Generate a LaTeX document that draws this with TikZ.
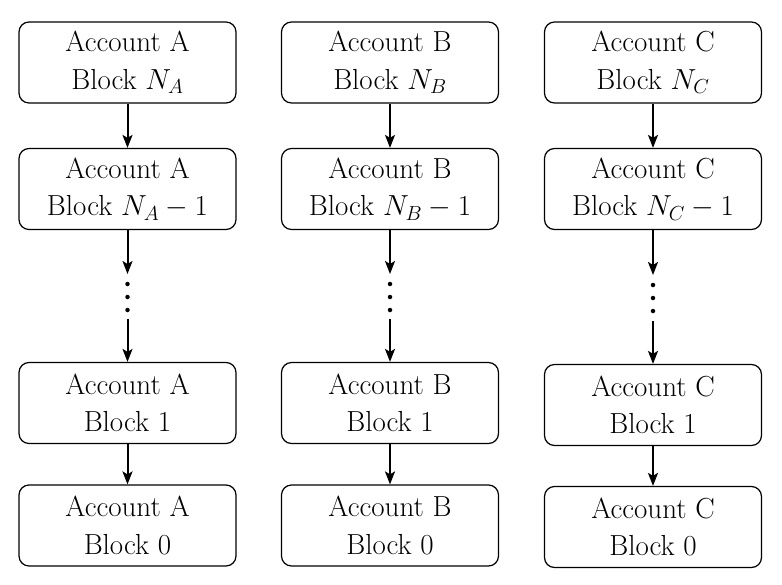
\RequirePackage{fix-cm}
\documentclass[tikz,border=0pt]{standalone}
\usetikzlibrary{arrows.meta}
\begin{document}
\begin{tikzpicture}[x=1pt,y=1pt,
  blockbox/.style={draw, line width=1.2pt, rounded corners=10pt, minimum width=217pt, minimum height=81pt, inner sep=0pt, align=center, font=\rmfamily\fontsize{29}{37.2}\selectfont},
  link/.style={line width=2pt, -{Stealth[length=13pt,width=10pt,inset=3pt]}},
  vdot/.style={fill, circle, inner sep=0pt, minimum size=4.5pt}]
\useasboundingbox (0,0) rectangle (782,-584);
% Column A
\node[blockbox] (a1) at (127.5,-62.5) {Account A\\Block $N_A$};
\node[blockbox] (a2) at (127.5,-189) {Account A\\Block $N_A-1$};
\node[blockbox] (a3) at (127.5,-403) {Account A\\Block 1};
\node[blockbox] (a4) at (127.5,-525.5) {Account A\\Block 0};
\coordinate (aup) at (127.5,-274);
\coordinate (adn) at (127.5,-319);
\node[vdot] (ad1) at (127.5,-284) {};
\node[vdot] (ad2) at (127.5,-297) {};
\node[vdot] (ad3) at (127.5,-310) {};
% Column B
\node[blockbox] (b1) at (390,-62.5) {Account B\\Block $N_B$};
\node[blockbox] (b2) at (390,-189) {Account B\\Block $N_B-1$};
\node[blockbox] (b3) at (390,-403) {Account B\\Block 1};
\node[blockbox] (b4) at (390,-525.5) {Account B\\Block 0};
\coordinate (bup) at (390,-274);
\coordinate (bdn) at (390,-319);
\node[vdot] (bd1) at (390,-284) {};
\node[vdot] (bd2) at (390,-297) {};
\node[vdot] (bd3) at (390,-310) {};
% Column C
\node[blockbox] (c1) at (653,-62.5) {Account C\\Block $N_C$};
\node[blockbox] (c2) at (653,-189) {Account C\\Block $N_C-1$};
\node[blockbox] (c3) at (653,-405) {Account C\\Block 1};
\node[blockbox] (c4) at (653,-527) {Account C\\Block 0};
\coordinate (cup) at (653,-275);
\coordinate (cdn) at (653,-321);
\node[vdot] (cd1) at (653,-285) {};
\node[vdot] (cd2) at (653,-298) {};
\node[vdot] (cd3) at (653,-311) {};
% Arrows
\foreach \c in {a,b,c}{
  \draw[link] (\c1) -- (\c2);
  \draw[link] (\c2) -- (\c up);
  \draw[link] (\c dn) -- (\c3);
  \draw[link] (\c3) -- (\c4);
}
\end{tikzpicture}
\end{document}
